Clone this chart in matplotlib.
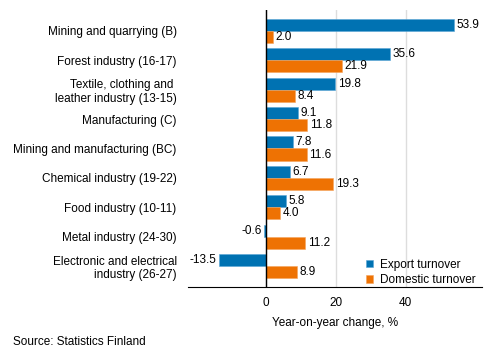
import numpy as np
import matplotlib
matplotlib.use("Agg")
import matplotlib.pyplot as plt

plt.rcParams["font.family"] = ["Liberation Sans", "DejaVu Sans"]

categories = [
    "Mining and quarrying (B)",
    "Forest industry (16-17)",
    "Textile, clothing and \nleather industry (13-15)",
    "Manufacturing (C)",
    "Mining and manufacturing (BC)",
    "Chemical industry (19-22)",
    "Food industry (10-11)",
    "Metal industry (24-30)",
    "Electronic and electrical\nindustry (26-27)",
]
export = [53.9, 35.6, 19.8, 9.1, 7.8, 6.7, 5.8, -0.6, -13.5]
domestic = [2.0, 21.9, 8.4, 11.8, 11.6, 19.3, 4.0, 11.2, 8.9]

BLUE = "#0072b2"
ORANGE = "#ee7203"
FS = 8.5

fig = plt.figure(figsize=(4.93, 3.6), dpi=100)
ax = fig.add_axes([0.381, 0.203, 0.597, 0.769])

y = np.arange(len(categories))
h = 0.41
ax.barh(y - h / 2, export, height=h, color=BLUE, edgecolor="#5aa6d6", linewidth=0.4,
        label="Export turnover", zorder=3)
ax.barh(y + h / 2, domestic, height=h, color=ORANGE, edgecolor="#f5a35c", linewidth=0.4,
        label="Domestic turnover", zorder=3)

for yi, v in zip(y, export):
    ax.text(v + (0.7 if v >= 0 else -0.7), yi - h / 2, f"{v:.1f}",
            ha="left" if v >= 0 else "right", va="center", fontsize=FS)
for yi, v in zip(y, domestic):
    ax.text(v + 0.7, yi + h / 2, f"{v:.1f}", ha="left", va="center", fontsize=FS)

ax.set_xlim(-22.5, 62)
ax.set_ylim(len(categories) - 1 + 0.71, -0.71)
ax.set_yticks(y)
ax.set_yticklabels(categories, fontsize=FS)
ax.set_xticks([0, 20, 40])
ax.tick_params(axis="both", length=0, labelsize=FS)
ax.tick_params(axis="x", pad=7)
ax.tick_params(axis="y", pad=8)

ax.grid(axis="x", color="#dddddd", linewidth=1, zorder=0)
ax.axvline(0, color="black", linewidth=1, zorder=4)
for s in ["top", "right", "left"]:
    ax.spines[s].set_visible(False)
ax.spines["bottom"].set_color("black")

ax.set_xlabel("Year-on-year change, %", fontsize=FS, labelpad=6)

ax.legend(loc="lower right", frameon=False, fontsize=FS, handlelength=0.6,
          handleheight=0.6, handletextpad=0.6, borderaxespad=0.0,
          labelspacing=0.3, bbox_to_anchor=(0.995, -0.015))

fig.text(0.026, 0.05, "Source: Statistics Finland", fontsize=FS, va="center")

fig.savefig("out.png", dpi=100)
